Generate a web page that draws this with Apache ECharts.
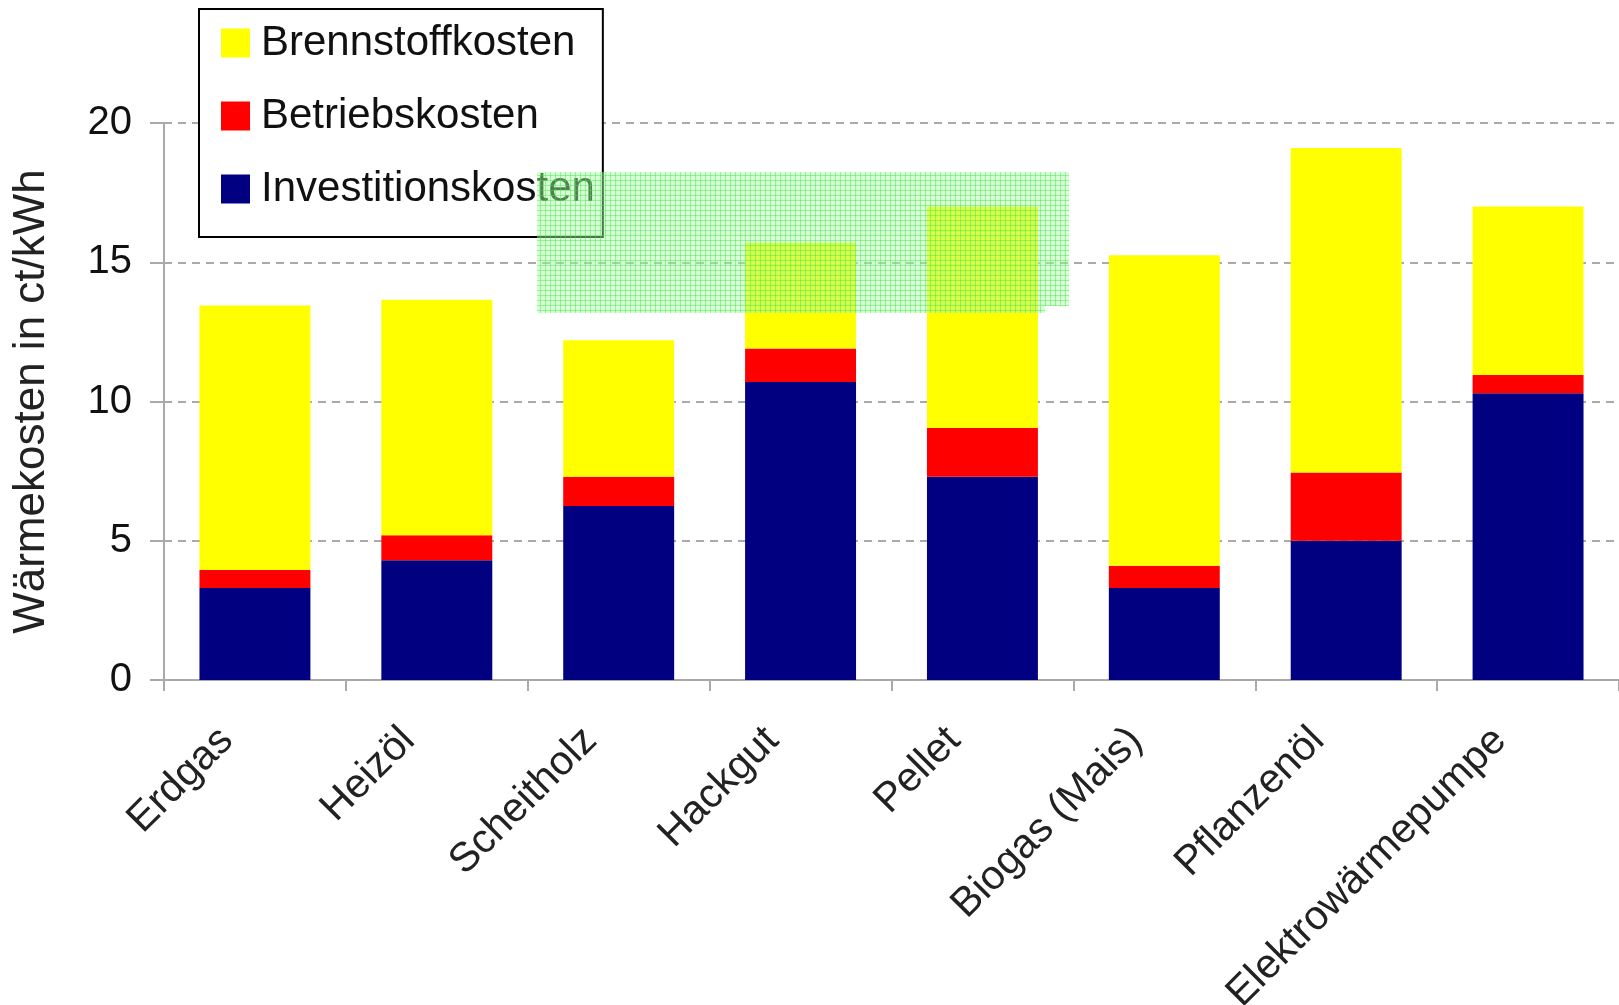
<!DOCTYPE html>
<html>
<head>
<meta charset="utf-8">
<script src="https://cdn.jsdelivr.net/npm/echarts@6/dist/echarts.min.js"></script>
<style>
  html, body { margin: 0; padding: 0; background: #fff; }
  #chart { width: 1619px; height: 1005px; }
</style>
</head>
<body>
<div id="chart"></div>
<script>
  const categories = ['Erdgas', 'Heizöl', 'Scheitholz', 'Hackgut', 'Pellet', 'Biogas (Mais)', 'Pflanzenöl', 'Elektrowärmepumpe']
  const investition = [3.3, 4.3, 6.25, 10.7, 7.3, 3.3, 5.0, 10.3]
  const betrieb = [0.65, 0.9, 1.05, 1.2, 1.75, 0.8, 2.45, 0.65]
  const brennstoff = [9.5, 8.45, 4.9, 3.8, 7.95, 11.15, 11.65, 6.05]
  const yTicks = [0, 5, 10, 15, 20]

  // fine green grid texture for the overlay patch
  const patt = document.createElement('canvas')
  patt.width = 5
  patt.height = 5
  const pc = patt.getContext('2d')
  pc.fillStyle = 'rgba(170,255,170,0.45)'
  pc.fillRect(0, 0, 5, 5)
  pc.fillStyle = 'rgba(60,230,60,0.45)'
  pc.fillRect(0, 0, 5, 1)
  pc.fillRect(0, 0, 1, 5)

  const font = 'Liberation Sans, Arial, sans-serif'
  const chart = echarts.init(document.getElementById('chart'))

  chart.setOption({
    animation: false,
    backgroundColor: '#fff',
    grid: { left: 164, right: 0, top: 123, bottom: 325, outerBoundsMode: 'none', containLabel: false },
    legend: {
      orient: 'vertical',
      left: 199,
      top: 9,
      data: ['Brennstoffkosten', 'Betriebskosten', 'Investitionskosten'],
      itemWidth: 29,
      itemHeight: 29,
      itemGap: 31,
      padding: [13, 8, 27, 22],
      borderColor: '#000',
      borderWidth: 2,
      backgroundColor: '#fff',
      icon: 'rect',
      textStyle: { fontFamily: font, fontSize: 42, lineHeight: 42, color: '#111', padding: [0, 0, 0, 6] }
    },
    xAxis: {
      type: 'category',
      data: categories,
      axisLine: { lineStyle: { color: '#aaa', width: 2 } },
      axisTick: { show: true, length: 11, lineStyle: { color: '#aaa', width: 2 } },
      axisLabel: { rotate: 45, fontFamily: font, fontSize: 41, color: '#222', margin: 26, interval: 0, padding: [0, 40, 0, 0] }
    },
    yAxis: {
      type: 'value',
      min: yTicks[0],
      max: yTicks[yTicks.length - 1],
      interval: 5,
      name: 'Wärmekosten in ct/kWh',
      nameLocation: 'middle',
      nameGap: 110,
      nameTextStyle: { fontFamily: font, fontSize: 44, color: '#222' },
      axisLine: { show: true, lineStyle: { color: '#aaa', width: 2 } },
      axisTick: { show: true, length: 14, lineStyle: { color: '#aaa', width: 2 } },
      axisLabel: { fontFamily: font, fontSize: 40, color: '#111', margin: 32 },
      splitLine: { lineStyle: { color: '#aaa', type: [8, 6], width: 2 } }
    },
    series: [{
      name: 'Investitionskosten',
      type: 'bar',
      stack: 'k',
      data: investition,
      barCategoryGap: '39%',
      itemStyle: { color: '#000080' }
    }, {
      name: 'Betriebskosten',
      type: 'bar',
      stack: 'k',
      data: betrieb,
      itemStyle: { color: '#ff0000' }
    }, {
      name: 'Brennstoffkosten',
      type: 'bar',
      stack: 'k',
      data: brennstoff,
      itemStyle: { color: '#ffff00' }
    }],
    graphic: [{
      type: 'polygon',
      z: 100,
      silent: true,
      shape: { points: [[537, 172], [1069, 172], [1069, 306], [1045, 306], [1045, 313], [537, 313]] },
      style: { fill: { image: patt, repeat: 'repeat' } }
    }]
  })
</script>
</body>
</html>
